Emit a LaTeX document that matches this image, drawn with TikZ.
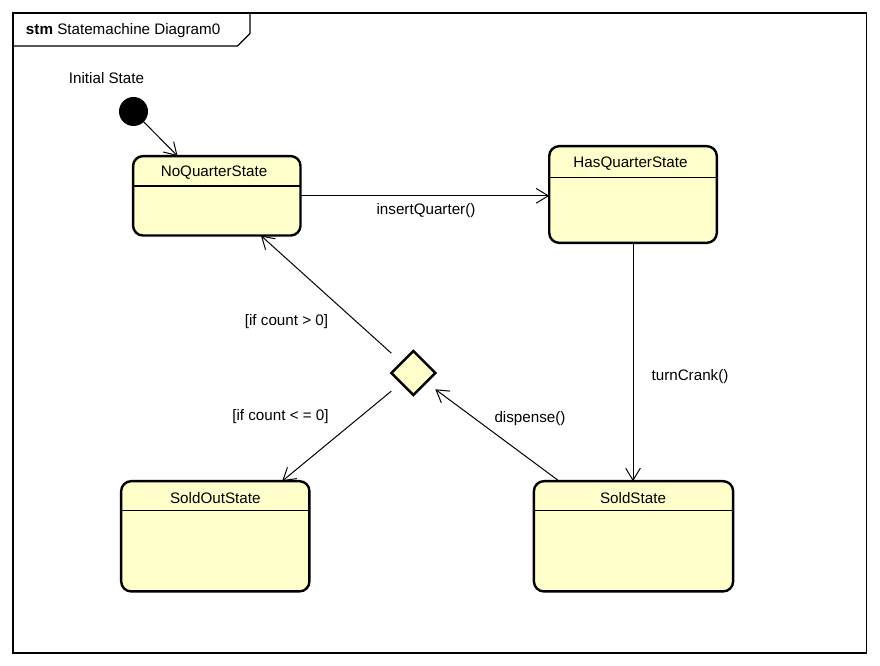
\documentclass[tikz,border=0pt]{standalone}
\usepackage{fontspec}
\setmainfont{Liberation Sans}
\usetikzlibrary{arrows.meta}
\definecolor{statefill}{RGB}{255,255,204}
\begin{document}
\begin{tikzpicture}[x=0.75pt,y=-0.75pt,
  font=\fontsize{11.4}{13.5}\selectfont,
  every node/.style={inner sep=0pt, outer sep=0pt},
  frameline/.style={draw=black, line width=1pt},
  statebox/.style={rectangle, draw=black, line width=1.8pt, fill=statefill, rounded corners=7.5pt},
  divider/.style={draw=black, line width=0.8pt},
  decision/.style={rectangle, minimum size=33pt},
  decisionshape/.style={draw=black, line width=1.8pt, fill=statefill},
  initstate/.style={circle, fill=black, minimum size=21.75pt},
  trans/.style={draw=black, line width=0.75pt, -{Straight Barb[length=9pt,width=11pt]}}
]
\useasboundingbox (0,0) rectangle (880,666);

% diagram frame with its name tab
\draw[frameline] (13,13) rectangle (866.5,653);
\draw[frameline] (13,46) -- (237.5,46) -- (250,33.5) -- (250,13);
\node[anchor=west] (frametitle) at (26,31) {\textbf{stm} Statemachine Diagram0};

% initial pseudostate
\node (initlabel) at (106.5,78.5) {Initial State};
\node[initstate] (init) at (133.5,111.5) {};

% states
\node[statebox, minimum width=125.6pt, minimum height=59.6pt] (nq) at (216.8,195.8) {};
\node (nqt) at (214,173) {NoQuarterState};
\draw[divider] (nq.west |- 0,186) -- (nq.east |- 0,186);

\node[statebox, minimum width=125.7pt, minimum height=72.5pt] (hq) at (633,194.5) {};
\node (hqt) at (630.5,164) {HasQuarterState};
\draw[divider] (hq.west |- 0,177.5) -- (hq.east |- 0,177.5);

\node[statebox, minimum width=141.2pt, minimum height=82.7pt] (so) at (215.3,536.3) {};
\node (sot) at (215.3,498) {SoldOutState};
\draw[divider] (so.west |- 0,510.7) -- (so.east |- 0,510.7);

\node[statebox, minimum width=149.4pt, minimum height=82.7pt] (ss) at (633.5,536.3) {};
\node (sst) at (633,498) {SoldState};
\draw[divider] (ss.west |- 0,510.7) -- (ss.east |- 0,510.7);

% choice pseudostate
\node[decision] (dec) at (413.3,373) {};
\draw[decisionshape] (dec.north) -- (dec.east) -- (dec.south) -- (dec.west) -- cycle;

% transitions
\draw[trans] (init) -- (nq);
\draw[trans] (nq.east) -- (nq.east -| hq.west);
\draw[trans] (hq.south) -- (hq.south |- ss.north);
\draw[trans] (ss) -- (dec);
\draw[trans] (dec) -- (nq);
\draw[trans] (dec) -- (so);

% transition labels
\node (l1) at (426,211) {insertQuarter()};
\node (l2) at (690,377) {turnCrank()};
\node (l3) at (530,419) {dispense()};
\node (l4) at (286.5,322) {[if count > 0]};
\node (l5) at (280.5,417) {[if count < = 0]};
\end{tikzpicture}
\end{document}
